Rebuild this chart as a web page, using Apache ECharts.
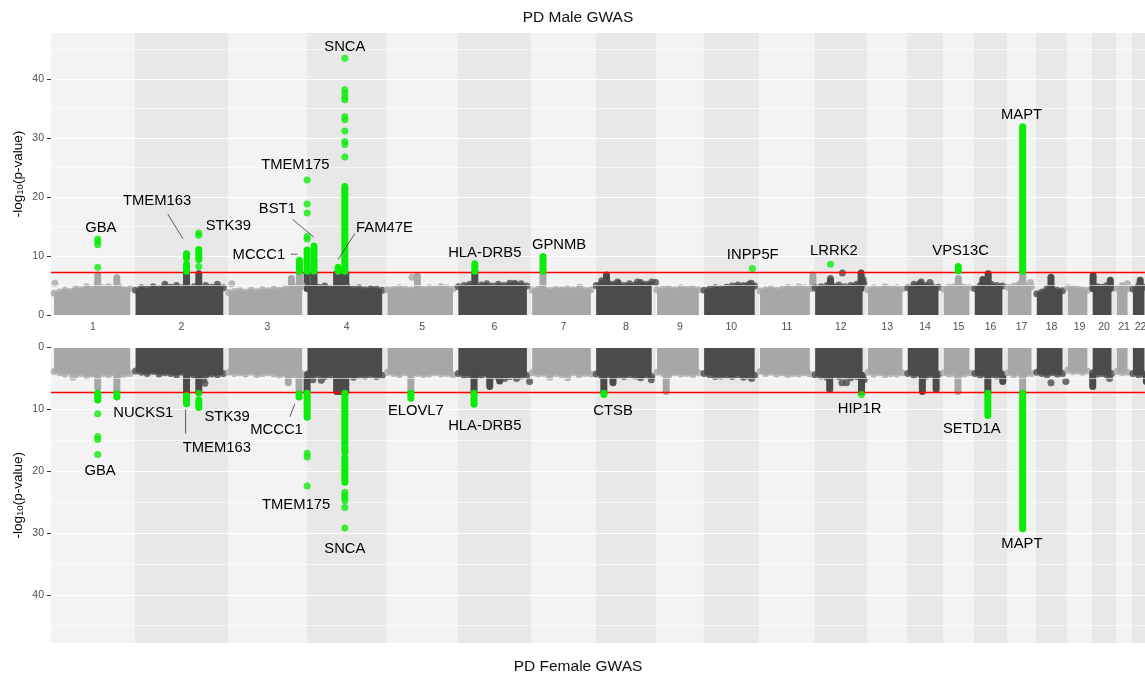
<!DOCTYPE html>
<html><head><meta charset="utf-8">
<script src="https://cdn.jsdelivr.net/npm/echarts@6/dist/echarts.min.js"></script>
<style>html,body{margin:0;padding:0;background:#fff;overflow:hidden;}#chart{width:1150px;height:677px;}</style>
</head><body><div id="chart"></div>
<script>
// ---------------- data ----------------
const chromosomes = ['1','2','3','4','5','6','7','8','9','10','11','12','13','14','15','16','17','18','19','20','21','22'];
const chrLengthMb = [219,243,206,209,185,193,167,159,123,146,144,138,104,94,81,86,76,81,65,63,42,44];
const genomeWideLine = 7.3;
const yMajor = [0,10,20,30,40];
const yMinor = [5,15,25,35,45];
const yMax = 47.8;

// envelope of the dense SNP cloud (-log10 p), sampled evenly along each chromosome
const maleEnvelope = [
 [3.7,3.9,4.2,4.0,4.5,4.3,4.8,4.4,5.0,4.6,4.8,4.4,4.7,4.3,4.5],
 [4.2,4.6,4.4,4.8,4.5,5.2,4.7,5.0,4.6,4.5,4.8,4.6,5.0,4.7,5.2,4.6],
 [3.8,4.0,4.1,3.9,4.2,4.0,4.3,4.1,4.4,4.2,4.5,4.4,4.8,5.0],
 [4.6,5.0,4.7,4.9,4.5,4.8,4.6,4.7,4.4,4.6,4.3,4.5,4.4,4.2],
 [4.3,4.4,4.6,4.4,4.3,4.5,4.4,4.6,4.5,4.8,4.6,4.4],
 [4.8,5.0,5.2,4.9,5.1,5.3,4.9,5.2,5.0,5.4,5.1,5.3,4.9],
 [4.2,4.4,4.3,4.2,4.4,4.3,4.5,4.3,4.4,4.2,4.3],
 [5.0,5.8,5.5,5.2,5.4,5.0,5.3,5.1,5.5,5.2,5.6],
 [4.3,4.4,4.5,4.3,4.6,4.4,4.5,4.3],
 [4.2,4.4,4.6,4.5,4.7,4.9,5.1,5.0,5.2,4.9],
 [4.1,4.3,4.5,4.2,4.4,4.7,4.5,4.8,4.6,4.4],
 [4.6,4.8,5.0,4.9,5.1,4.8,5.0,5.2,5.4],
 [4.3,4.6,4.4,4.8,4.5,4.6,4.4],
 [4.6,5.2,5.4,5.0,4.8,4.7],
 [4.4,4.7,4.8,5.0,4.7,4.6],
 [4.5,5.0,4.8,5.2,5.0,4.9],
 [4.7,4.9,5.3,5.0,4.8],
 [3.6,3.9,4.5,4.4,4.2,4.1],
 [4.6,4.5,4.4,4.3,4.2],
 [4.5,4.8,4.7,5.0,4.6],
 [4.5,5.0,4.4],
 [4.4,5.0,4.7]
];
const femaleEnvelope = [
 [3.9,4.1,4.3,4.0,4.4,4.2,4.6,4.3,4.5,4.2,4.4,4.1,4.5,4.3,4.2],
 [3.8,4.0,4.2,3.9,4.3,4.1,4.2,4.4,4.0,4.3,4.5,4.2,4.6,4.3,4.4,4.2],
 [4.0,4.2,4.1,4.3,4.0,4.4,4.2,4.1,4.3,4.5,4.2,4.4,4.6,4.3],
 [4.3,4.6,4.4,4.7,4.5,4.3,4.6,4.4,4.8,4.5,4.6,4.4,4.7,4.5],
 [4.0,4.2,4.4,4.1,4.3,4.2,4.4,4.3,4.1,4.3,4.2,4.4],
 [4.2,4.5,4.4,4.7,4.5,4.3,4.6,4.8,4.5,4.7,4.4,4.6,4.5],
 [4.1,4.3,4.2,4.4,4.2,4.5,4.3,4.1,4.4,4.2,4.3],
 [4.3,4.6,4.4,4.8,4.5,4.7,4.4,4.6,4.9,4.5,4.7],
 [4.0,4.2,4.4,4.1,4.3,4.2,4.4,4.1],
 [4.2,4.4,4.3,4.6,4.5,4.7,4.4,4.8,4.6,4.5],
 [3.9,4.2,4.0,4.3,4.1,4.4,4.2,4.3,4.1,4.3],
 [4.4,4.6,4.8,4.5,4.7,4.6,4.9,4.7,4.5],
 [4.0,4.3,4.1,4.4,4.2,4.3,4.1],
 [4.2,4.5,4.3,4.6,4.4,4.3],
 [4.1,4.3,4.2,4.4,4.3,4.1],
 [4.2,4.5,4.3,4.4,4.6,4.3],
 [4.1,4.4,4.2,4.3,4.2],
 [4.0,4.2,4.4,4.1,4.3,4.2],
 [3.7,3.9,3.8,4.0,3.8],
 [4.1,4.3,4.2,4.4,4.2],
 [3.9,4.1,4.0],
 [4.2,4.4,4.3]
];

// non-significant SNP columns [chr, posMb, low, high] and single SNPs [chr, posMb, value]
const maleGreyRuns = [[1,122,4.5,6.8],[1,172,4.5,6.3],[2,135,4.5,7.1],[2,167,4.5,7.0],[3,166,4.5,6.2],[3,187,4.5,7.1],[4,1,4.5,7.1],[4,19,4.5,7.1],[4,78,4.5,7.0],[4,84,4.5,7.1],[4,90,4.5,7.1],[4,96,4.5,7.1],[4,102,4.5,7.0],[5,80,4.5,6.6],[6,45,4.5,7.1],[7,30,4.5,7.1],[8,29,4.5,6.8],[11,140,4.5,6.8],[12,42,4.5,5.8],[12,122,4.5,7.1],[15,40,4.5,6.2],[16,23,4.5,6.0],[16,37,4.5,7.0],[17,41,4.5,7.1],[18,39,4.5,6.4],[20,3,4.5,6.7],[20,48,4.5,5.9],[22,21,4.5,5.9]];
const maleGreyPoints = [[1,10,5.4],[3,10,5.3],[5,66,6.4],[7,126,4.7],[8,157,5.5],[8,58,5.6],[8,110,5.6],[10,125,5.4],[12,42,6.2],[12,73,7.1],[12,127,6.0],[12,129,5.4],[14,37,5.6],[14,60,5.5],[17,61,5.5],[21,30,5.3],[6,149,5.4]];
const femaleGreyRuns = [[1,122,4.5,6.5],[1,172,4.5,7.0],[2,135,4.5,7.2],[2,167,4.5,7.2],[3,158,4.5,5.7],[3,186,4.5,7.1],[4,1,4.5,7.2],[4,78,4.5,7.1],[4,84,4.5,7.1],[4,90,4.5,7.1],[4,96,4.5,7.1],[4,102,4.5,7.1],[5,63,4.5,7.1],[6,43,4.5,7.2],[6,84,4.5,6.3],[6,110,4.5,5.4],[8,22,4.5,7.2],[8,46,4.5,5.7],[9,26,4.5,7.1],[12,40,4.5,6.8],[12,123,4.5,7.2],[14,40,4.5,7.1],[14,76,4.5,6.8],[15,39,4.5,7.1],[16,36,4.5,7.2],[16,75,4.5,5.5],[17,41,4.5,7.2],[20,2,4.5,6.3],[22,37,4.5,5.5]];
const femaleGreyPoints = [[1,57,4.8],[2,183,5.8],[2,178,5.2],[4,16,5.2],[4,38,5.3],[6,123,5.0],[6,154,5.0],[6,188,5.5],[7,48,4.8],[7,95,4.9],[8,146,5.2],[10,31,4.7],[10,126,5.0],[12,72,5.7],[12,84,5.7],[12,123,5.7],[12,123,6.4],[12,130,5.2],[18,39,5.7],[18,78,5.5],[20,46,5.0]];

// genome-wide significant SNPs
const maleHitRuns = [[2,135,7.4,8.6],[2,135,9.6,10.4],[2,167,9.4,11.1],[4,1,7.4,11.0],[4,19,7.4,11.7],[3,187,7.4,9.3],[4,82,7.4,8.1],[4,99.5,7.4,21.8],[6,45,7.4,8.7],[7,30,7.4,9.9],[15,40,7.5,8.2],[17,41,7.4,31.9]];
const maleHitPoints = [[1,122,12.9],[1,122,12.5],[1,122,11.9],[1,122,8.1],[2,167,13.9],[2,167,13.5],[2,167,8.2],[4,1,22.9],[4,1,18.8],[4,1,17.3],[4,1,13.3],[4,1,12.9],[4,99.5,43.5],[4,99.5,38.2],[4,99.5,37.6],[4,99.5,36.9],[4,99.5,36.5],[4,99.5,33.6],[4,99.5,33.1],[4,99.5,31.2],[4,99.5,29.4],[4,99.5,28.9],[4,99.5,26.8],[10,128,7.9],[12,42,8.6]];
const femaleHitRuns = [[1,122,7.4,8.5],[1,172,7.5,8.0],[2,135,7.8,9.1],[2,167,8.5,9.7],[3,186,7.5,8.0],[4,1,7.4,11.3],[4,99.5,7.4,15.6],[4,99.5,16.1,17.0],[4,99.5,17.8,21.8],[5,63,7.4,8.2],[6,43,7.4,9.2],[8,22,7.4,7.6],[16,36,7.4,11.0],[17,41,7.4,29.3]];
const femaleHitPoints = [[1,122,10.7],[1,122,14.4],[1,122,14.9],[1,122,17.3],[2,167,7.4],[4,1,17.1],[4,1,17.7],[4,1,22.4],[4,99.5,23.4],[4,99.5,23.9],[4,99.5,24.3],[4,99.5,24.8],[4,99.5,25.9],[4,99.5,29.2],[12,123,7.6]];

// gene labels [name, chr, posMb, value] and leader lines [chr, pos, value, chr, pos, value]
const maleGenes = [['GBA',1,130,14.7],['TMEM163',2,58,19.3],['STK39',2,244,15.1],['TMEM175',3,176,25.4],['BST1',3,129,17.9],['MCCC1',3,81,10.2],['SNCA',4,99.5,45.5],['FAM47E',4,203,14.7],['HLA-DRB5',6,71,10.5],['GPNMB',7,72,11.9],['INPP5F',10,129,10.2],['LRRK2',12,51,10.9],['VPS13C',15,46,10.9],['MAPT',17,38,33.9]];
const maleLeaders = [[2,86,17.1,2,126,12.9],[3,169,16.2,4,18.5,13.2],[3,164.5,10.3,3,182,10.3],[4,125.6,13.8,4,82,9.4]];
const femaleGenes = [['GBA',1,128,20.0],['NUCKS1',2,22,10.6],['STK39',2,241,11.2],['TMEM163',2,214,16.3],['MCCC1',3,127,13.4],['TMEM175',3,178,25.4],['SNCA',4,99.5,32.5],['ELOVL7',5,76,10.3],['HLA-DRB5',6,71,12.7],['CTSB',8,46,10.2],['HIP1R',12,118,9.9],['SETD1A',15,75,13.2],['MAPT',17,39,31.8]];
const femaleLeaders = [[2,132.6,10.0,2,132.6,13.9],[3,175,9.1,3,162,11.2]];

// ---------------- build ----------------
const LIGHT = '#a7a7a7', DARK = '#4b4b4b', GREEN = '#0bec0b';
const FONT = '"Liberation Sans", Arial, Helvetica, sans-serif';
const starts = []; let acc = 0;
chrLengthMb.forEach(l => { starts.push(acc); acc += l; });
const genomeLength = acc;
const gx = (chr, pos) => starts[chr - 1] + pos;
const chrColor = chr => (chr % 2 ? LIGHT : DARK);
const centers = chrLengthMb.map((l, i) => starts[i] + l / 2);

function panelSeries(p, env, gRuns, gPts, hRuns, hPts, genes, leaders) {
  const s = [];
  const base = {xAxisIndex: p, yAxisIndex: p, silent: true, animation: false};
  // background bands
  s.push(Object.assign({type: 'line', data: [], z: 1,
    markArea: {silent: true, animation: false,
      data: chrLengthMb.map((l, i) => [{xAxis: starts[i], itemStyle: {color: i % 2 ? '#e8e8e8' : '#f3f3f3'}}, {xAxis: starts[i] + l}])}}, base));
  // grid lines
  s.push(Object.assign({type: 'line', data: [], z: 2,
    markLine: {silent: true, animation: false, symbol: ['none', 'none'], label: {show: false},
      data: yMajor.map(v => ({yAxis: v, lineStyle: {color: '#ffffff', width: 1.2, type: 'solid'}}))
        .concat(yMinor.map(v => ({yAxis: v, lineStyle: {color: '#ffffff', width: 0.6, type: 'solid'}})))}}, base));
  // envelopes
  const dots = [];
  env.forEach((vals, i) => {
    const chr = i + 1, len = chrLengthMb[i], n = vals.length, c = chrColor(chr);
    const x0 = starts[i] + (i === 0 ? 8 : 2), x1 = starts[i] + len - 12;
    const pts = vals.map((v, k) => [x0 + k * (x1 - x0) / (n - 1), v]);
    s.push(Object.assign({type: 'line', data: pts, z: 3, symbol: 'none',
      lineStyle: {color: c, width: 2}, areaStyle: {color: c, opacity: 1}}, base));
    pts.forEach(pt => dots.push({value: pt, itemStyle: {color: c}}));
  });
  gPts.forEach(r => dots.push({value: [gx(r[0], r[1]), r[2]], itemStyle: {color: chrColor(r[0])}}));
  // runs
  const runSeries = (runs, green, z) => Object.assign({type: 'custom', z, clip: false,
    data: runs.map(r => [gx(r[0], r[1]), r[2], r[3], r[0]]),
    encode: {x: 0, y: [1, 2]},
    renderItem: (params, api) => {
      const a = api.coord([api.value(0), api.value(1)]);
      const b = api.coord([api.value(0), api.value(2)]);
      return {type: 'line', shape: {x1: a[0], y1: a[1], x2: b[0], y2: b[1]},
        style: {stroke: green ? GREEN : chrColor(api.value(3)), lineWidth: 7, lineCap: 'round'}};
    }}, base);
  s.push(runSeries(gRuns, false, 4));
  s.push(Object.assign({type: 'scatter', z: 4, symbolSize: 7, data: dots}, base));
  s.push(runSeries(hRuns, true, 5));
  s.push(Object.assign({type: 'scatter', z: 5, symbolSize: 7, itemStyle: {color: GREEN},
    data: hPts.map(r => [gx(r[0], r[1]), r[2]])}, base));
  // threshold
  s.push(Object.assign({type: 'line', data: [], z: 8,
    markLine: {silent: true, animation: false, symbol: ['none', 'none'], label: {show: false},
      data: [{yAxis: genomeWideLine}], lineStyle: {color: '#ff0000', width: 1.4, type: 'solid'}}}, base));
  // leaders
  s.push(Object.assign({type: 'custom', z: 9, clip: false,
    data: leaders.map(r => [gx(r[0], r[1]), r[2], gx(r[3], r[4]), r[5]]),
    renderItem: (params, api) => {
      const a = api.coord([api.value(0), api.value(1)]);
      const b = api.coord([api.value(2), api.value(3)]);
      return {type: 'line', shape: {x1: a[0], y1: a[1], x2: b[0], y2: b[1]}, style: {stroke: '#333', lineWidth: 0.8}};
    }}, base));
  // gene labels
  s.push(Object.assign({type: 'custom', z: 10, clip: false,
    data: genes.map(g => [gx(g[1], g[2]), g[3]]),
    renderItem: (params, api) => {
      const a = api.coord([api.value(0), api.value(1)]);
      return {type: 'text', x: a[0], y: a[1], style: {text: genes[params.dataIndex][0], fill: '#000',
        fontSize: 14.8, fontFamily: FONT, align: 'center', verticalAlign: 'middle'}};
    }}, base));
  return s;
}

const yAxisCommon = {
  type: 'value', min: 0, max: yMax, interval: 10,
  axisLine: {show: false},
  axisTick: {show: true, length: 4, lineStyle: {color: '#333', width: 1}, customValues: yMajor},
  axisLabel: {color: '#4d4d4d', fontSize: 10.5, fontFamily: FONT, margin: 7, customValues: yMajor},
  splitLine: {show: false},
  name: '-log{sub|10}(p-value)', nameLocation: 'middle', nameGap: 26, nameMoveOverlap: false,
  nameTextStyle: {color: '#000', fontSize: 13.5, fontFamily: FONT,
    rich: {sub: {fontSize: 9.5, fontFamily: FONT, color: '#000', verticalAlign: 'bottom'}}}
};

const option = {
  backgroundColor: '#ffffff',
  animation: false,
  title: [
    {text: 'PD Male GWAS', left: 573, top: 5, textAlign: 'center', textStyle: {fontSize: 15.5, fontWeight: 'normal', color: '#111', fontFamily: FONT}},
    {text: 'PD Female GWAS', left: 573, top: 654, textAlign: 'center', textStyle: {fontSize: 15.5, fontWeight: 'normal', color: '#111', fontFamily: FONT}}
  ],
  grid: [
    {left: 51, right: 1, top: 33, height: 282},
    {left: 51, right: 1, top: 347.5, height: 295.5}
  ],
  xAxis: [
    {gridIndex: 0, type: 'value', min: 0, max: genomeLength,
      axisLine: {show: false}, axisTick: {show: false}, splitLine: {show: false},
      axisLabel: {customValues: centers, color: '#4d4d4d', fontSize: 10.5, fontFamily: FONT, margin: 7,
        formatter: v => { let b = 0, d = Infinity; centers.forEach((c, i) => { if (Math.abs(c - v) < d) { d = Math.abs(c - v); b = i; } }); return chromosomes[b]; }}},
    {gridIndex: 1, type: 'value', min: 0, max: genomeLength, show: false}
  ],
  yAxis: [
    Object.assign({}, yAxisCommon, {gridIndex: 0}),
    Object.assign({}, yAxisCommon, {gridIndex: 1, inverse: true})
  ],
  series: panelSeries(0, maleEnvelope, maleGreyRuns, maleGreyPoints, maleHitRuns, maleHitPoints, maleGenes, maleLeaders)
    .concat(panelSeries(1, femaleEnvelope, femaleGreyRuns, femaleGreyPoints, femaleHitRuns, femaleHitPoints, femaleGenes, femaleLeaders))
};

const chart = echarts.init(document.getElementById('chart'), null, {renderer: 'canvas'});
chart.setOption(option);
</script></body></html>
